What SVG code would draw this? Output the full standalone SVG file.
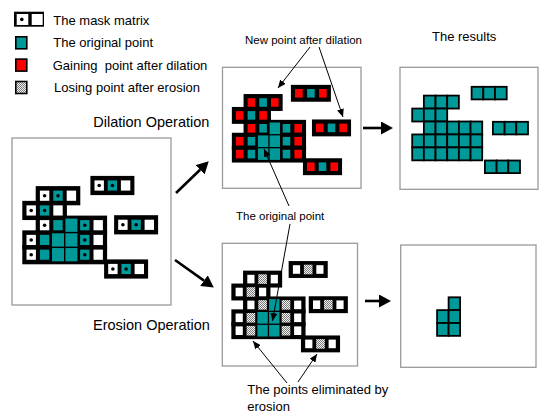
<svg xmlns="http://www.w3.org/2000/svg" width="550" height="419" viewBox="0 0 550 419">
<style>
.panel{fill:#fff;stroke:#9a9a9a;stroke-width:1.3}
.k{fill:#000}
.t{fill:#009999}
.w{fill:#fff}
.r{fill:#ff0000}
.c{fill:url(#chk)}
.res{fill:#009999;stroke:#000;stroke-width:1.8}
.lbl{font-family:"Liberation Sans",Arial,sans-serif;fill:#000}
.thick{stroke:#000;stroke-width:2.6;fill:none}
.thin{stroke:#000;stroke-width:1;fill:none}
</style>
<defs>
<pattern id="chk" width="2" height="2" patternUnits="userSpaceOnUse">
<rect width="2" height="2" fill="#f2f2f2"/>
<rect width="1" height="1" fill="#7a7a7a"/>
<rect x="1" y="1" width="1" height="1" fill="#7a7a7a"/>
</pattern>
<marker id="bigHead" markerUnits="userSpaceOnUse" markerWidth="12" markerHeight="13" viewBox="0 0 12 13" refX="0" refY="6.5" orient="auto">
<path d="M0,0 L12,6.5 L0,13 Z" fill="#000"/>
</marker>
<marker id="smallHead" markerUnits="userSpaceOnUse" markerWidth="8" markerHeight="7" viewBox="0 0 8 7" refX="8" refY="3.5" orient="auto">
<path d="M0,0 L8,3.5 L0,7 Z" fill="#000"/>
</marker>
</defs>
<rect width="550" height="419" fill="#fff"/>

<!-- Legend -->
<g id="legend">
<rect x="14" y="11.7" width="30" height="15" class="k"/>
<rect x="16.7" y="14" width="11.6" height="11" class="w"/>
<rect x="31.7" y="14" width="11" height="11" class="w"/>
<circle cx="21.8" cy="19.4" r="1.8" class="k"/>
<rect x="15.8" y="36.8" width="11" height="12" class="t" stroke="#000" stroke-width="1.6"/>
<rect x="15.8" y="59.1" width="11" height="12" class="r" stroke="#000" stroke-width="1.6"/>
<rect x="15.8" y="81.5" width="11" height="12" class="c" stroke="#000" stroke-width="1.6"/>
<text class="lbl" x="53.3" y="25" font-size="13">The mask matrix</text>
<text class="lbl" x="53.3" y="46.7" font-size="13">The original point</text>
<text class="lbl" x="52.7" y="69.5" font-size="13" xml:space="preserve">Gaining  point after dilation</text>
<text class="lbl" x="54" y="91.7" font-size="13">Losing point after erosion</text>
</g>

<!-- Left panel: original with mask -->
<g id="original">
<rect class="panel" x="12" y="138" width="159" height="167"/>
<rect class="k" x="35.7" y="186.1" width="44.6" height="19.2"/>
<rect class="k" x="22.3" y="200.85" width="44.6" height="19.2"/>
<rect class="k" x="35.7" y="215.6" width="71.4" height="19.2"/>
<rect class="k" x="22.3" y="230.35" width="84.8" height="19.2"/>
<rect class="k" x="22.3" y="245.1" width="84.8" height="19.2"/>
<rect class="w" x="39.9" y="190.6" width="9.4" height="10.2"/>
<rect class="t" x="53.3" y="190.6" width="9.4" height="10.2"/>
<rect class="w" x="66.7" y="190.6" width="9.4" height="10.2"/>
<rect class="w" x="26.5" y="205.35" width="9.4" height="10.2"/>
<rect class="t" x="39.9" y="205.35" width="9.4" height="10.2"/>
<rect class="w" x="53.3" y="205.35" width="9.4" height="10.2"/>
<rect class="w" x="39.9" y="220.1" width="9.4" height="10.2"/>
<rect class="t" x="53.3" y="220.1" width="9.4" height="10.2"/>
<rect class="t" x="65.4" y="218.55" width="12" height="13.3"/>
<rect class="t" x="80.1" y="220.1" width="9.4" height="10.2"/>
<rect class="w" x="93.5" y="220.1" width="9.4" height="10.2"/>
<rect class="w" x="26.5" y="234.85" width="9.4" height="10.2"/>
<rect class="t" x="39.9" y="234.85" width="9.4" height="10.2"/>
<rect class="t" x="52" y="233.3" width="12" height="13.3"/>
<rect class="t" x="65.4" y="233.3" width="12" height="13.3"/>
<rect class="t" x="80.1" y="234.85" width="9.4" height="10.2"/>
<rect class="w" x="93.5" y="234.85" width="9.4" height="10.2"/>
<rect class="w" x="26.5" y="249.6" width="9.4" height="10.2"/>
<rect class="t" x="39.9" y="249.6" width="9.4" height="10.2"/>
<rect class="t" x="52" y="248.05" width="12" height="13.3"/>
<rect class="t" x="65.4" y="248.05" width="12" height="13.3"/>
<rect class="t" x="80.1" y="249.6" width="9.4" height="10.2"/>
<rect class="w" x="93.5" y="249.6" width="9.4" height="10.2"/>
<circle class="k" cx="44.6" cy="195.7" r="1.8"/>
<circle class="k" cx="58" cy="195.7" r="1.8"/>
<circle class="k" cx="31.2" cy="210.45" r="1.8"/>
<circle class="k" cx="44.6" cy="210.45" r="1.8"/>
<circle class="k" cx="44.6" cy="225.2" r="1.8"/>
<circle class="k" cx="84.8" cy="225.2" r="1.8"/>
<circle class="k" cx="31.2" cy="239.95" r="1.8"/>
<circle class="k" cx="84.8" cy="239.95" r="1.8"/>
<circle class="k" cx="31.2" cy="254.7" r="1.8"/>
<circle class="k" cx="84.8" cy="254.7" r="1.8"/>
<!-- block 1 -->
<rect class="k" x="90.4" y="175.9" width="44" height="19.2"/>
<rect class="w" x="94.5" y="180.4" width="9.4" height="10.2"/>
<rect class="t" x="107.7" y="180.4" width="9.4" height="10.2"/>
<rect class="w" x="120.9" y="180.4" width="9.4" height="10.2"/>
<circle class="k" cx="99.2" cy="185.5" r="1.8"/>
<circle class="k" cx="112.4" cy="185.5" r="1.8"/>
<!-- block 2 -->
<rect class="k" x="114.1" y="215.2" width="44" height="19.2"/>
<rect class="w" x="118.2" y="219.7" width="9.4" height="10.2"/>
<rect class="t" x="131.4" y="219.7" width="9.4" height="10.2"/>
<rect class="w" x="144.6" y="219.7" width="9.4" height="10.2"/>
<circle class="k" cx="122.9" cy="224.8" r="1.8"/>
<circle class="k" cx="136.1" cy="224.8" r="1.8"/>
<!-- block 3 -->
<rect class="k" x="104.1" y="259.4" width="44" height="19.2"/>
<rect class="w" x="108.2" y="263.9" width="9.4" height="10.2"/>
<rect class="t" x="121.4" y="263.9" width="9.4" height="10.2"/>
<rect class="w" x="134.6" y="263.9" width="9.4" height="10.2"/>
<circle class="k" cx="112.9" cy="269" r="1.8"/>
<circle class="k" cx="126.1" cy="269" r="1.8"/>
</g>

<!-- Dilation panel -->
<g id="dilation">
<rect class="panel" x="222.5" y="67.3" width="138.5" height="121"/>
<rect class="k" x="243.55" y="94.05" width="39.1" height="16.9"/>
<rect class="k" x="231.85" y="106.95" width="39.1" height="16.9"/>
<rect class="k" x="243.55" y="119.85" width="62.5" height="16.9"/>
<rect class="k" x="231.85" y="132.75" width="74.2" height="16.9"/>
<rect class="k" x="231.85" y="145.65" width="74.2" height="16.9"/>
<rect class="r" x="247.6" y="98.2" width="7.6" height="8.6"/>
<rect class="t" x="259.3" y="98.2" width="7.6" height="8.6"/>
<rect class="r" x="271" y="98.2" width="7.6" height="8.6"/>
<rect class="r" x="235.9" y="111.1" width="7.6" height="8.6"/>
<rect class="t" x="247.6" y="111.1" width="7.6" height="8.6"/>
<rect class="r" x="259.3" y="111.1" width="7.6" height="8.6"/>
<rect class="r" x="247.6" y="124" width="7.6" height="8.6"/>
<rect class="t" x="259.3" y="124" width="7.6" height="8.6"/>
<rect class="t" x="269.6" y="122.5" width="10.4" height="11.6"/>
<rect class="t" x="282.7" y="124" width="7.6" height="8.6"/>
<rect class="r" x="294.4" y="124" width="7.6" height="8.6"/>
<rect class="r" x="235.9" y="136.9" width="7.6" height="8.6"/>
<rect class="t" x="247.6" y="136.9" width="7.6" height="8.6"/>
<rect class="t" x="257.9" y="135.4" width="10.4" height="11.6"/>
<rect class="t" x="269.6" y="135.4" width="10.4" height="11.6"/>
<rect class="t" x="282.7" y="136.9" width="7.6" height="8.6"/>
<rect class="r" x="294.4" y="136.9" width="7.6" height="8.6"/>
<rect class="r" x="235.9" y="149.8" width="7.6" height="8.6"/>
<rect class="t" x="247.6" y="149.8" width="7.6" height="8.6"/>
<rect class="t" x="257.9" y="148.3" width="10.4" height="11.6"/>
<rect class="t" x="269.6" y="148.3" width="10.4" height="11.6"/>
<rect class="t" x="282.7" y="149.8" width="7.6" height="8.6"/>
<rect class="r" x="294.4" y="149.8" width="7.6" height="8.6"/>
<rect class="k" x="290.9" y="84.85" width="40" height="16.9"/>
<rect class="r" x="295.1" y="89" width="7.6" height="8.6"/>
<rect class="t" x="307.1" y="89" width="7.6" height="8.6"/>
<rect class="r" x="319.1" y="89" width="7.6" height="8.6"/>
<rect class="k" x="311.95" y="119.45" width="39.1" height="16.9"/>
<rect class="r" x="316" y="123.6" width="7.6" height="8.6"/>
<rect class="t" x="327.7" y="123.6" width="7.6" height="8.6"/>
<rect class="r" x="339.4" y="123.6" width="7.6" height="8.6"/>
<rect class="k" x="302.95" y="158.25" width="39.1" height="16.9"/>
<rect class="r" x="307" y="162.4" width="7.6" height="8.6"/>
<rect class="t" x="318.7" y="162.4" width="7.6" height="8.6"/>
<rect class="r" x="330.4" y="162.4" width="7.6" height="8.6"/>
</g>

<!-- Dilation results -->
<g id="dilation-result">
<rect class="panel" x="400" y="67.3" width="138" height="122"/>
<rect class="res" x="423.87" y="95.6" width="11.67" height="12.95"/>
<rect class="res" x="435.54" y="95.6" width="11.67" height="12.95"/>
<rect class="res" x="447.21" y="95.6" width="11.67" height="12.95"/>
<rect class="res" x="412.2" y="108.55" width="11.67" height="12.95"/>
<rect class="res" x="423.87" y="108.55" width="11.67" height="12.95"/>
<rect class="res" x="435.54" y="108.55" width="11.67" height="12.95"/>
<rect class="res" x="423.87" y="121.5" width="11.67" height="12.95"/>
<rect class="res" x="435.54" y="121.5" width="11.67" height="12.95"/>
<rect class="res" x="447.21" y="121.5" width="11.67" height="12.95"/>
<rect class="res" x="458.88" y="121.5" width="11.67" height="12.95"/>
<rect class="res" x="470.55" y="121.5" width="11.67" height="12.95"/>
<rect class="res" x="412.2" y="134.45" width="11.67" height="12.95"/>
<rect class="res" x="423.87" y="134.45" width="11.67" height="12.95"/>
<rect class="res" x="435.54" y="134.45" width="11.67" height="12.95"/>
<rect class="res" x="447.21" y="134.45" width="11.67" height="12.95"/>
<rect class="res" x="458.88" y="134.45" width="11.67" height="12.95"/>
<rect class="res" x="470.55" y="134.45" width="11.67" height="12.95"/>
<rect class="res" x="412.2" y="147.4" width="11.67" height="12.95"/>
<rect class="res" x="423.87" y="147.4" width="11.67" height="12.95"/>
<rect class="res" x="435.54" y="147.4" width="11.67" height="12.95"/>
<rect class="res" x="447.21" y="147.4" width="11.67" height="12.95"/>
<rect class="res" x="458.88" y="147.4" width="11.67" height="12.95"/>
<rect class="res" x="470.55" y="147.4" width="11.67" height="12.95"/>
<rect class="res" x="471.6" y="86.8" width="11.7" height="12.6"/>
<rect class="res" x="483.3" y="86.8" width="11.7" height="12.6"/>
<rect class="res" x="495" y="86.8" width="11.7" height="12.6"/>
<rect class="res" x="492.9" y="121.8" width="11.7" height="12.6"/>
<rect class="res" x="504.6" y="121.8" width="11.7" height="12.6"/>
<rect class="res" x="516.3" y="121.8" width="11.7" height="12.6"/>
<rect class="res" x="484.9" y="160.5" width="11.7" height="12.6"/>
<rect class="res" x="496.6" y="160.5" width="11.7" height="12.6"/>
<rect class="res" x="508.3" y="160.5" width="11.7" height="12.6"/>
</g>

<!-- Erosion panel -->
<g id="erosion">
<rect class="panel" x="222.3" y="243.3" width="135.2" height="122.7"/>
<rect class="k" x="243.05" y="270.65" width="39.1" height="16.9"/>
<rect class="k" x="231.35" y="283.55" width="39.1" height="16.9"/>
<rect class="k" x="243.05" y="296.45" width="62.5" height="16.9"/>
<rect class="k" x="231.35" y="309.35" width="74.2" height="16.9"/>
<rect class="k" x="231.35" y="322.25" width="74.2" height="16.9"/>
<rect class="w" x="247.3" y="274.8" width="7.2" height="8.6"/>
<rect class="c" x="258.3" y="274.3" width="8.6" height="9.6"/>
<rect class="w" x="270.7" y="274.8" width="7.2" height="8.6"/>
<rect class="w" x="235.6" y="287.7" width="7.2" height="8.6"/>
<rect class="c" x="246.6" y="287.2" width="8.6" height="9.6"/>
<rect class="w" x="259" y="287.7" width="7.2" height="8.6"/>
<rect class="w" x="247.3" y="300.6" width="7.2" height="8.6"/>
<rect class="c" x="258.3" y="300.1" width="8.6" height="9.6"/>
<rect class="t" x="269.1" y="299.1" width="10.4" height="11.6"/>
<rect class="c" x="281.7" y="300.1" width="8.6" height="9.6"/>
<rect class="w" x="294.1" y="300.6" width="7.2" height="8.6"/>
<rect class="w" x="235.6" y="313.5" width="7.2" height="8.6"/>
<rect class="c" x="246.6" y="313" width="8.6" height="9.6"/>
<rect class="t" x="257.4" y="312" width="10.4" height="11.6"/>
<rect class="t" x="269.1" y="312" width="10.4" height="11.6"/>
<rect class="c" x="281.7" y="313" width="8.6" height="9.6"/>
<rect class="w" x="294.1" y="313.5" width="7.2" height="8.6"/>
<rect class="w" x="235.6" y="326.4" width="7.2" height="8.6"/>
<rect class="c" x="246.6" y="325.9" width="8.6" height="9.6"/>
<rect class="t" x="257.4" y="324.9" width="10.4" height="11.6"/>
<rect class="t" x="269.1" y="324.9" width="10.4" height="11.6"/>
<rect class="c" x="281.7" y="325.9" width="8.6" height="9.6"/>
<rect class="w" x="294.1" y="326.4" width="7.2" height="8.6"/>
<rect class="k" x="288.65" y="261.05" width="39.1" height="16.9"/>
<rect class="w" x="292.9" y="265.2" width="7.2" height="8.6"/>
<rect class="c" x="303.9" y="264.7" width="8.6" height="9.6"/>
<rect class="w" x="316.3" y="265.2" width="7.2" height="8.6"/>
<rect class="k" x="308.75" y="296.25" width="39.1" height="16.9"/>
<rect class="w" x="313" y="300.4" width="7.2" height="8.6"/>
<rect class="c" x="324" y="299.9" width="8.6" height="9.6"/>
<rect class="w" x="336.4" y="300.4" width="7.2" height="8.6"/>
<rect class="k" x="300.95" y="335.45" width="39.1" height="16.9"/>
<rect class="w" x="305.2" y="339.6" width="7.2" height="8.6"/>
<rect class="c" x="316.2" y="339.1" width="8.6" height="9.6"/>
<rect class="w" x="328.6" y="339.6" width="7.2" height="8.6"/>
</g>

<!-- Erosion result -->
<g id="erosion-result">
<rect class="panel" x="400.7" y="245" width="135.3" height="122.3"/>
<rect class="res" x="448.6" y="297.3" width="11.5" height="12.85"/>
<rect class="res" x="437.1" y="310.15" width="11.5" height="12.85"/>
<rect class="res" x="448.6" y="310.15" width="11.5" height="12.85"/>
<rect class="res" x="437.1" y="323" width="11.5" height="12.85"/>
<rect class="res" x="448.6" y="323" width="11.5" height="12.85"/>
</g>

<!-- Labels -->
<g id="labels">
<text class="lbl" x="245" y="44" font-size="11.5">New point after dilation</text>
<text class="lbl" x="432" y="41" font-size="13">The results</text>
<text class="lbl" x="93.3" y="126.7" font-size="14.5">Dilation Operation</text>
<text class="lbl" x="236" y="220" font-size="11.5">The original point</text>
<text class="lbl" x="93" y="330" font-size="14.5">Erosion Operation</text>
<text class="lbl" x="247.3" y="394" font-size="13">The points eliminated by</text>
<text class="lbl" x="247.3" y="410.5" font-size="13">erosion</text>
</g>

<!-- Connectors -->
<g id="connectors">
<line class="thick" x1="176" y1="193" x2="200.1" y2="169.7" marker-end="url(#bigHead)"/>
<line class="thick" x1="175" y1="260" x2="204" y2="280.6" marker-end="url(#bigHead)"/>
<line class="thick" x1="363" y1="128" x2="381" y2="128" marker-end="url(#bigHead)"/>
<line class="thick" x1="365" y1="301" x2="379" y2="301" marker-end="url(#bigHead)"/>
<line class="thin" x1="310" y1="47" x2="278" y2="88" marker-end="url(#smallHead)"/>
<line class="thin" x1="319" y1="47" x2="343" y2="117" marker-end="url(#smallHead)"/>
<line class="thin" x1="289" y1="206" x2="264" y2="149" marker-end="url(#smallHead)"/>
<line class="thin" x1="290" y1="224" x2="272.5" y2="321" marker-end="url(#smallHead)"/>
<line class="thin" x1="287" y1="383" x2="253" y2="341" marker-end="url(#smallHead)"/>
<line class="thin" x1="298" y1="382" x2="317" y2="354" marker-end="url(#smallHead)"/>
</g>
</svg>
